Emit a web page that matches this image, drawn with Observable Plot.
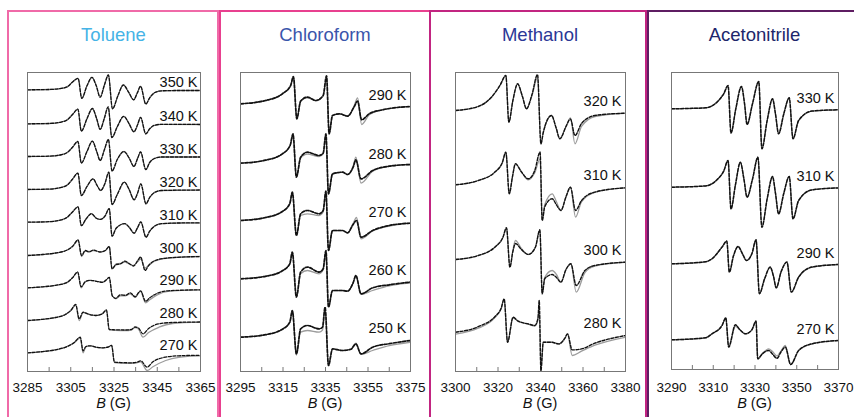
<!DOCTYPE html>
<html><head><meta charset="utf-8">
<script src="https://cdn.jsdelivr.net/npm/d3@7"></script>
<script src="https://cdn.jsdelivr.net/npm/@observablehq/plot@0.6"></script>
<style>
body{margin:0;background:#fff;font-family:"Liberation Sans",Arial,Helvetica,sans-serif;}
#root{position:relative;width:854px;height:417px;overflow:hidden;background:#fff;}
.panel{position:absolute;top:10px;height:430px;box-sizing:border-box;border:2px solid;}
.title{position:absolute;top:24px;width:220px;font-size:18.5px;text-align:center;line-height:22px;}
.xlab{position:absolute;top:395px;width:120px;font-size:14.5px;text-align:center;color:#111;}
.plot{position:absolute;top:60px;}
</style></head><body><div id="root"></div>
<script>
// ---------------- Toluene ----------------
const tolueneTemps = [350,340,330,320,310,300,290,280,270];
const tolueneOffsets = [263,229,196.3,163.3,130.6,97.3,65,32.3,0];
const tol350 = [[3285,0],[3295,0.3],[3300,1.2],[3303.4,3],[3305.7,7.6],[3308.4,11.5],[3310.1,-8.5],[3312.5,4],[3314.8,12.5],[3316.8,4],[3318.6,-7.4],[3320.6,5],[3322.4,14.8],[3324.3,-19],[3326.8,-6],[3329.3,4.8],[3331.8,-2.5],[3334.1,-10],[3335.8,-3],[3337.3,3.5],[3339.7,-14.3],[3341.5,-8],[3343.7,-3],[3347,-1],[3355,-0.7],[3365,-0.7]];
const tol340 = [[3285,0],[3295,0.3],[3300,1.5],[3303.4,4],[3305.7,9],[3308.3,14.6],[3309.9,-7.3],[3312.5,5],[3315,15.3],[3317,5],[3318.6,-5.5],[3320.6,6],[3322.3,17],[3324,-13.7],[3326.5,-3],[3329.5,7.5],[3332,0],[3334.2,-8],[3335.9,-1],[3337.3,6.5],[3339.7,-10],[3341.5,-5],[3343.7,-1.5],[3347,-0.5],[3365,-0.7]];
const tol330 = [[3285,0],[3295,0.3],[3300,1.5],[3303.4,4],[3305.7,9],[3308.3,15],[3309.9,-6.6],[3312.5,5],[3315,15.3],[3317,5],[3318.6,-4],[3320.6,7],[3322.4,17],[3324.1,-14.5],[3326.5,-3],[3329.6,5],[3332,-1.5],[3334.2,-10],[3335.9,-2],[3337.3,4.5],[3339.7,-13],[3341.5,-6],[3343.7,-2],[3347,-0.5],[3365,-0.5]];
const tol320 = [[3285,0],[3295,0.4],[3300,1.8],[3303.4,4.5],[3305.7,10],[3308.3,16.3],[3309.9,-6],[3312.5,3],[3315.3,10.7],[3317.2,4],[3318.8,-1],[3320.8,6],[3322.6,17.3],[3324.1,-15],[3326.5,-5],[3329.8,7.3],[3332,0],[3334.3,-10.3],[3336,-3],[3337.4,5.7],[3339.8,-14.3],[3341.5,-8],[3343.7,-3],[3347,-1],[3365,-0.5]];
const tol310 = [[3285,0],[3295,0.5],[3300,2],[3303.4,5],[3305.7,10],[3308.4,15.3],[3309.9,-3.5],[3312,3],[3314.6,8.5],[3316.8,4],[3318.8,2.8],[3320.8,6],[3322.8,13.6],[3324.1,-14],[3326,-6],[3330,-1.5],[3332,-5],[3334.3,-11],[3336,-5],[3337.4,0.3],[3339.8,-15],[3341.5,-9],[3343.7,-4],[3347,-1.5],[3355,-0.8],[3365,-0.7]];
const tol300 = [[3285,0],[3292,1],[3298,2.5],[3303.4,5.5],[3306,9.5],[3308.4,15.7],[3310,0],[3311.7,5],[3313.5,3.5],[3315.5,5.5],[3318.5,3.5],[3321,5],[3322.8,9],[3324.1,-13.3],[3326,-9],[3327.8,-8.5],[3330,-5.7],[3332,-8],[3334,-10.5],[3336,-5],[3337.3,-1.5],[3339.4,-15],[3341,-10],[3344,-5],[3350,-2.5],[3365,-1]];
const tol300Fit = [[3285,0],[3292,1],[3298,2.5],[3303.4,5.5],[3306,9.5],[3308.4,15.2],[3310,-1],[3311.7,4.5],[3313.5,4],[3315.5,5],[3318.5,3.5],[3321,5],[3322.8,9],[3324.1,-13],[3326,-8.5],[3327.8,-8],[3330,-6.5],[3332,-8.5],[3334,-10],[3336,-6],[3337.3,-3.5],[3339.4,-12.5],[3341,-10],[3344,-5.5],[3350,-2.5],[3365,-1]];
const tol290 = [[3285,0],[3292,1],[3298,2.5],[3303.4,5.5],[3305.8,10],[3308.2,15.8],[3309.8,1],[3311.7,6],[3314,7.5],[3317,6.5],[3319.6,5.5],[3321.5,8],[3322.8,10.5],[3324.2,-8],[3325.8,-10.5],[3328,-7],[3330.4,-7.5],[3332.5,-5],[3334.8,-9],[3336.3,-5],[3337.3,-3],[3339.6,-13.5],[3341.5,-10],[3345,-5.5],[3350,-3],[3365,-2]];
const tol290Fit = [[3285,0],[3292,1],[3298,2.5],[3303.4,5.5],[3305.8,10],[3308.2,15.5],[3309.8,0],[3311.7,6],[3314,7.5],[3317,6.5],[3319.6,5.5],[3321.5,8],[3322.8,10.5],[3324.2,-8],[3325.8,-11],[3328,-8],[3330.4,-8],[3332.5,-6],[3334.8,-9.5],[3336.3,-5.5],[3337.3,-3.5],[3339.6,-15],[3341.5,-12],[3345,-7],[3350,-3.5],[3365,-2]];
const tol280 = [[3285,0],[3292,1.2],[3298,3],[3302.5,6],[3305,10],[3307.3,16],[3308.9,1.7],[3310.7,8.3],[3313,6.5],[3316.5,5],[3319.5,6.5],[3321.5,10.7],[3322.8,-9],[3325.7,-9.3],[3330.4,-9.5],[3333,-9],[3334.7,-6.5],[3336.3,-7.5],[3338.4,-13.3],[3341,-8],[3345.8,-3.3],[3352,-2],[3365,-1.5]];
const tol280Fit = [[3285,0],[3292,1.2],[3298,3],[3302.5,6],[3305,10],[3307.3,15.5],[3308.9,0],[3310.7,8],[3313,6.5],[3316.5,5],[3319.5,6.5],[3321.5,10.2],[3322.8,-9],[3325.7,-9.8],[3330.4,-10],[3333,-9.5],[3334.7,-7],[3336.3,-8.5],[3338.4,-16.7],[3341,-12],[3345.8,-6.7],[3352,-3],[3365,-1.7]];
const tol270 = [[3285,0],[3292,1.2],[3298,3],[3303,6],[3306.5,10],[3309.4,15.6],[3310.7,2],[3312,6.3],[3314,7],[3317,5.5],[3320,5],[3322.5,6],[3323.9,7.5],[3325.2,-9.3],[3328.9,-9.8],[3333,-10],[3335.5,-9.5],[3337.3,-8],[3340.3,-14.3],[3343,-9],[3348.9,-4.3],[3355,-3],[3365,-2.5]];
const tol270Fit = [[3285,0],[3292,1.2],[3298,3],[3303,6],[3306.5,10],[3309.4,15],[3310.7,0],[3312,6],[3314,7],[3317,5.5],[3320,5],[3322.5,6],[3323.9,7.5],[3325.2,-9.8],[3328.9,-10.5],[3333,-10.5],[3335.5,-10],[3337.3,-9],[3340.3,-17.7],[3343,-14],[3348.9,-7.7],[3355,-4.5],[3365,-3]];
const tolueneExp = [tol350,tol340,tol330,tol320,tol310,tol300,tol290,tol280,tol270];
const tolueneFit = [tol350,tol340,tol330,tol320,tol310,tol300Fit,tol290Fit,tol280Fit,tol270Fit];

// ---------------- Chloroform ----------------
const chloroformTemps = [290,280,270,260,250];
const chloroformOffsets = [233.4,174,116.7,58.4,0];
const chl290 = [[3295,0],[3306.8,3.3],[3314.7,10],[3318.6,18.3],[3319.9,27.3],[3321.5,-15],[3323.3,2.7],[3326.5,6.7],[3330.4,3.3],[3333.9,8.3],[3335.5,28],[3336.7,-30],[3338.3,-11.7],[3341.5,-10],[3345.4,-12.3],[3348.5,-3],[3350.1,2.7],[3352,-16],[3355.6,-10],[3361.9,-6],[3375,-2.7]];
const chl290Fit = [[3295,0],[3306.8,3.3],[3314.7,10],[3318.6,18.3],[3319.9,27],[3321.5,-15],[3323.3,2.7],[3326.5,6],[3330.4,3],[3333.9,8],[3335.5,25],[3336.7,-30],[3338.3,-11.7],[3341.5,-10],[3345.4,-12.3],[3348.5,-2],[3350.1,6],[3352,-20.7],[3355.6,-11],[3361.9,-6],[3375,-2.7]];
const chl280 = [[3295,0],[3306.8,3],[3314.7,9.3],[3318.4,18],[3319.7,29.3],[3321.3,-14],[3323.3,6],[3326.5,11],[3332,7.7],[3333.9,10],[3335.2,29.3],[3336.4,-30.7],[3338.3,-10.7],[3343,-9],[3345.4,-11.3],[3348,-4],[3349.3,3.3],[3351.7,-15.7],[3357.2,-7.3],[3365,-3],[3375,-1.3]];
const chl280Fit = [[3295,0],[3306.8,3],[3314.7,9.3],[3318.4,18],[3319.7,28.5],[3321.3,-14],[3323.3,5],[3326.5,9],[3332,6.5],[3333.9,9.5],[3335.2,28],[3336.4,-30.7],[3338.3,-10.7],[3343,-9],[3345.4,-11.3],[3348,-3],[3349.3,6],[3351.7,-20],[3357.2,-8],[3365,-3],[3375,-1.3]];
const chl270 = [[3295,0],[3306.8,3],[3314.7,9],[3318.2,17],[3319.4,28.3],[3321.3,-15],[3323.3,6.7],[3326.5,10],[3332,6.7],[3333.9,10],[3335.2,29.3],[3336.4,-30],[3338.3,-10],[3343,-10],[3345.4,-12.3],[3348,-4],[3349.6,0],[3351.7,-16.7],[3357.2,-10],[3365,-5],[3375,-2.7]];
const chl270Fit = [[3295,0],[3306.8,3],[3314.7,9],[3318.2,17],[3319.4,28],[3321.3,-15],[3323.3,5],[3326.5,6.7],[3332,5],[3333.9,8.5],[3335.2,28.5],[3336.4,-30],[3338.3,-10],[3343,-10],[3345.4,-12.3],[3348,-3],[3349.6,3],[3351.7,-18.3],[3357.2,-10.5],[3365,-5.5],[3375,-2.7]];
const chl260 = [[3295,0],[3306.8,2.5],[3314.7,8],[3318.2,15],[3319.4,26.7],[3321.3,-18.3],[3323.3,6.7],[3326.5,11.7],[3332,6.7],[3333.9,10],[3335.2,28.3],[3336.4,-28.3],[3338.3,-11.7],[3343,-11.7],[3345.4,-12.3],[3348,-4],[3349.3,3.3],[3351.7,-15],[3357.2,-9],[3365,-6],[3375,-3.3]];
const chl260Fit = [[3295,0],[3306.8,2.5],[3314.7,8],[3318.2,15],[3319.4,26],[3321.3,-17],[3323.3,5],[3326.5,8.3],[3332,5],[3333.9,9],[3335.2,27.5],[3336.4,-28.3],[3338.3,-11.7],[3343,-11.7],[3345.4,-12.3],[3348,-4],[3349.3,3.5],[3351.7,-15.5],[3357.2,-11.7],[3365,-7],[3375,-4.3]];
const chl250 = [[3295,0],[3306.8,2.5],[3314.7,8],[3318.2,15],[3319.4,26.7],[3321.3,-16.7],[3323.3,8.3],[3326.5,11.7],[3332,8.3],[3333.6,10],[3334.8,30],[3336.4,-28.3],[3338.3,-11.7],[3343,-13.3],[3347,-12],[3349.3,-6.7],[3351.7,-16.7],[3357.2,-10],[3365,-6.5],[3375,-3.3]];
const chl250Fit = [[3295,0],[3306.8,2.5],[3314.7,8],[3318.2,15],[3319.4,26],[3321.3,-18],[3323.3,5],[3326.5,6.7],[3332,5],[3333.6,7],[3334.8,29],[3336.4,-28.3],[3338.3,-11.7],[3343,-13.3],[3347,-12],[3349.3,-6],[3351.7,-17],[3357.2,-13.3],[3365,-8.5],[3375,-5]];
const chloroformExp = [chl290,chl280,chl270,chl260,chl250];
const chloroformFit = [chl290Fit,chl280Fit,chl270Fit,chl260Fit,chl250Fit];

// ---------------- Methanol ----------------
const methanolTemps = [320,310,300,280];
const methanolOffsets = [222.7,148.4,73.7,0];
const met320 = [[3300,0],[3310.7,4],[3316.9,13.3],[3320.9,25],[3323.7,35],[3325.1,-11.7],[3327,10],[3329.2,26.7],[3331.5,14],[3333.4,1.7],[3336,16],[3338.6,36],[3340.2,-33.3],[3341.3,-22],[3345.2,-5],[3347.3,-17],[3349.1,-28.3],[3352,-16],[3354.1,-8.5],[3356.2,-25],[3359.3,-13],[3365.6,-5],[3380,-2.7]];
const met320Fit = [[3300,0],[3310.7,4],[3316.9,13.3],[3320.9,25],[3323.7,35],[3325.1,-11.7],[3327,10],[3329.2,26.7],[3331.5,14],[3333.4,1.7],[3336,15],[3338.6,32.7],[3340.2,-33.3],[3341.3,-22],[3345.2,-5],[3347.3,-17],[3349.1,-28.3],[3352,-16],[3354.1,-7.3],[3356.2,-33.3],[3359.3,-16],[3365.6,-6],[3380,-2.7]];
const met310 = [[3300,0],[3310.7,4.3],[3318.5,12.7],[3322,22],[3323.7,32.7],[3325.3,-9],[3326.8,8],[3328.2,21],[3331,13],[3334.2,6],[3337.3,14.3],[3339.8,32.7],[3340.8,-35.7],[3342,-22],[3345.5,-14],[3347.5,-20],[3349.6,-25.7],[3352,-12],[3354.1,-2.3],[3356.5,-25.7],[3359.3,-15.7],[3365.6,-7.3],[3380,-3]];
const met310Fit = [[3300,0],[3310.7,4.3],[3318.5,12.7],[3322,22],[3323.7,32.7],[3325.3,-9],[3326.8,8],[3328.2,21],[3331,13],[3334.2,5],[3337.3,12],[3339.8,26],[3340.8,-35.7],[3342,-20],[3345.5,-9],[3347.5,-17],[3349.6,-25.7],[3352,-12],[3354.1,-2.3],[3356.5,-32.3],[3359.3,-17],[3365.6,-7.5],[3380,-3]];
const met300 = [[3300,0],[3310.7,4],[3318.5,12.3],[3322.3,22],[3324,31.7],[3325.6,-7.7],[3327,8],[3328.2,16],[3331,10],[3334.2,5],[3337.6,12.3],[3339.7,29.7],[3340.8,-34.3],[3342,-19.3],[3345.5,-15],[3347.5,-18],[3349.6,-22.7],[3352,-10],[3354.3,-4.3],[3356.8,-26],[3360.9,-11],[3365.6,-6],[3380,-2.7]];
const met300Fit = [[3300,0],[3310.7,4],[3318.5,12.3],[3322.3,22],[3324,31.7],[3325.6,-7.7],[3327,9],[3328.2,19],[3331,11],[3334.2,5],[3337.6,12.3],[3339.7,29.7],[3340.8,-34.3],[3342,-18],[3345.5,-11],[3347.5,-15],[3349.6,-22.7],[3352,-10],[3354.3,-4.3],[3356.8,-32.7],[3360.9,-13],[3365.6,-6.5],[3380,-2.7]];
const met280 = [[3300,1],[3310.7,6.5],[3318.5,16.5],[3321.5,25],[3322.9,34.3],[3324.5,-9],[3327.1,16],[3329.5,12],[3334.2,9.3],[3337.3,7.7],[3338.8,15],[3339.4,32.7],[3340.2,-37.3],[3341.3,-9],[3345.2,-9],[3348.6,-10.7],[3351.5,-5],[3352.7,-0.7],[3354.9,-16.7],[3359.3,-15.7],[3365.6,-10],[3380,-2.3]];
const met280Fit = [[3300,-1],[3310.7,5],[3318.5,15.5],[3321.5,25],[3322.9,34],[3324.5,-9],[3327.1,15],[3329.5,12],[3334.2,9],[3337.3,7],[3338.8,13],[3339.4,26],[3340.2,-37.3],[3341.3,-9],[3345.2,-9],[3348.6,-11],[3351.5,-5],[3352.7,-0.7],[3354.9,-22.3],[3359.3,-18],[3365.6,-12],[3380,-4]];
const methanolExp = [met320,met310,met300,met280];
const methanolFit = [met320Fit,met310Fit,met300Fit,met280Fit];

// ---------------- Acetonitrile ----------------
const acetonitrileTemps = [330,310,290,270];
const acetonitrileOffsets = [231,152.6,76,0];
const ace330 = [[3290,0],[3306.3,1],[3311.8,6.7],[3315,15],[3317.1,23.3],[3318.5,-24.3],[3320.8,0],[3323.5,22.3],[3325,5],[3326.2,-15.7],[3328.8,5],[3331.8,27.3],[3333.3,-40],[3335.8,-12],[3338.4,10],[3339.8,-5],[3341.3,-25],[3343.8,-5],[3346.4,11],[3348.2,-30],[3350.9,-11.7],[3357.3,-2.3],[3370,-1]];
const ace310 = [[3290,0],[3306.3,1.3],[3311.8,7.5],[3315,16],[3317.1,26.7],[3318.5,-21.7],[3320.6,2],[3323,25],[3324.7,8],[3326.2,-10],[3328.8,8],[3331.4,30],[3333.3,-40],[3335.8,-12],[3338.4,10.7],[3339.8,-6],[3341.3,-26.7],[3343.8,-6],[3346.4,10.7],[3348.2,-31.7],[3350.9,-13.3],[3357.3,-2.7],[3370,-0.7]];
const ace290 = [[3290,0],[3306.3,2],[3309.4,5],[3314.2,16.7],[3316.5,22.7],[3317.7,-8.3],[3319.7,8],[3321.9,17.3],[3324,10],[3325.9,3.3],[3328.5,10],[3330.5,24],[3332.1,-30],[3334.6,-15],[3337.3,-3.3],[3338.8,-12],[3340.2,-24],[3342.5,-8],[3345.3,1.7],[3347.4,-28.3],[3350.9,-13.3],[3357.3,-3.3],[3370,-0.7]];
const ace270 = [[3290,0],[3306.3,2],[3309.4,6],[3314.2,14.3],[3316,22],[3317.4,-7.3],[3320.6,15],[3322.8,10],[3325.4,6],[3328.5,10],[3330.5,18.7],[3331.3,-19],[3333.5,-14],[3336.5,-10.7],[3338.5,-14.5],[3340.5,-18.5],[3342.5,-12],[3344.5,-7.3],[3347.1,-24.7],[3350.9,-10.7],[3357.3,-4],[3370,-0.7]];
const ace270Fit = [[3290,0],[3306.3,2],[3309.4,6],[3314.2,14.3],[3316,21.5],[3317.4,-6],[3320.6,13.5],[3322.8,10],[3325.4,6],[3328.5,10],[3330.5,18.7],[3331.3,-19],[3333.5,-14],[3336.5,-9],[3338.5,-12],[3340.5,-16],[3342.5,-11],[3344.5,-5.5],[3347.1,-24.7],[3350.9,-10.7],[3357.3,-4],[3370,-0.7]];
const acetonitrileExp = [ace330,ace310,ace290,ace270];
const acetonitrileFit = [ace330,ace310,ace290,ace270Fit];

// ---------------- layout ----------------
const root = document.getElementById("root");
const boxes = [
  {left:7, width:212, color:"#f06aa8"},
  {left:219, width:212, color:"#e8408f"},
  {left:429, width:218, color:"#c22581"},
  {left:647, width:230, color:"#5e1d62"}
];
for (const b of boxes) {
  const d = document.createElement("div");
  d.className = "panel";
  d.style.left = b.left + "px"; d.style.width = b.width + "px"; d.style.borderColor = b.color;
  root.appendChild(d);
}

const panels = [
  {title:"Toluene", color:"#45b3e6", x:[3285,3365], frame:[27,200], bottom:371, y:[-18.7,280.3],
   temps:tolueneTemps, offsets:tolueneOffsets, exp:tolueneExp, fit:tolueneFit, lift:7.3, dx:-3, ew:1.3},
  {title:"Chloroform", color:"#3a55ab", x:[3295,3375], frame:[240,410], bottom:371, y:[-34.3,264.7],
   temps:chloroformTemps, offsets:chloroformOffsets, exp:chloroformExp, fit:chloroformFit, lift:8.5, dx:-4, ew:1.7},
  {title:"Methanol", color:"#2b3796", x:[3300,3380], frame:[455,625], bottom:371, y:[-38.3,260.7],
   temps:methanolTemps, offsets:methanolOffsets, exp:methanolExp, fit:methanolFit, lift:9.5, dx:-4, ew:1.4},
  {title:"Acetonitrile", color:"#20266b", x:[3290,3370], frame:[671,838], bottom:369, y:[-29.7,267.3],
   temps:acetonitrileTemps, offsets:acetonitrileOffsets, exp:acetonitrileExp, fit:acetonitrileFit, lift:10.5, dx:-4, ew:1.5}
];

function rows(p, curves) {
  const out = [];
  curves.forEach((c, i) => c.forEach(([B, s]) => out.push({B, v: p.offsets[i] + s, temp: p.temps[i]})));
  return out;
}

for (const p of panels) {
  const cx = (p.frame[0] + p.frame[1]) / 2;
  const t = document.createElement("div");
  t.className = "title"; t.style.left = (cx - 110) + "px"; t.style.color = p.color; t.textContent = p.title;
  root.appendChild(t);
  const xl = document.createElement("div");
  xl.className = "xlab"; xl.style.left = (cx - 60) + "px";
  xl.innerHTML = "<i>B</i> (G)";
  root.appendChild(xl);

  const W = p.frame[1] - p.frame[0] + 40;
  const H = 360;
  const labels = p.temps.map((T, i) => ({T, v: p.offsets[i] + p.lift}));
  const minorTicks = d3.range(p.x[0], p.x[1] + 1, 10);
  const chart = Plot.plot({
    width: W, height: H,
    marginLeft: 20, marginRight: 20, marginTop: 12, marginBottom: 420 - p.bottom,
    style: {background: "transparent", overflow: "visible", fontFamily: "Liberation Sans, Arial, sans-serif"},
    x: {domain: p.x},
    y: {domain: p.y, axis: null},
    marks: [
      Plot.ruleX(minorTicks, {x: d => d, y1: p.y[0], y2: p.y[0] + 4, stroke: "#777"}),
      Plot.line(rows(p, p.fit), {x: "B", y: "v", z: "temp", stroke: "#9c9c9c", strokeWidth: 1.3, curve: "monotone-x", clip: true}),
      Plot.line(rows(p, p.exp), {x: "B", y: "v", z: "temp", stroke: "#111", strokeWidth: p.ew, strokeDasharray: "3,1.6", curve: "monotone-x", clip: true}),
      Plot.text(labels, {x: () => p.x[1], y: "v", text: d => d.T + " K", textAnchor: "end", dx: p.dx, fontSize: 14.5, fill: "#111"}),
      Plot.axisX({ticks: d3.range(p.x[0], p.x[1] + 1, 20), tickSize: 0, tickPadding: 11 + (371 - p.bottom), fontSize: 13.5, fill: "#111", label: null, tickFormat: d => String(d)}),
      Plot.frame({stroke: "#777", strokeWidth: 1})
    ]
  });
  chart.classList.add("plot");
  chart.style.left = (p.frame[0] - 20) + "px";
  chart.style.position = "absolute";
  chart.style.top = "60px";
  root.appendChild(chart);
}
</script></body></html>
